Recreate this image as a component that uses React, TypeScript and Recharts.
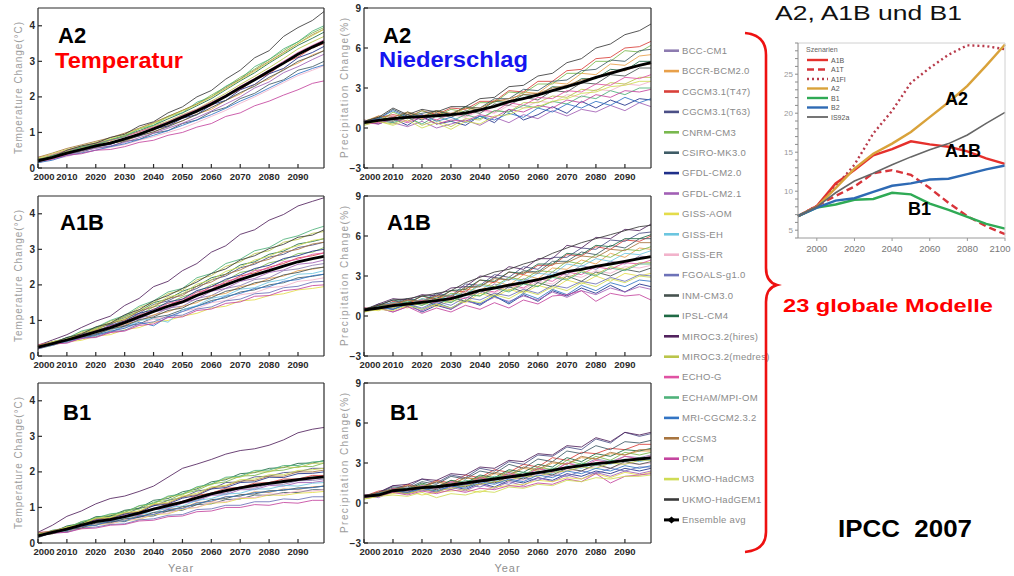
import React from 'react';
import { LineChart, Line, XAxis, YAxis } from 'recharts';

// ---------- categories / ticks ----------
const YEARS = [2000, 2005, 2010, 2015, 2020, 2025, 2030, 2035, 2040, 2045, 2050, 2055, 2060, 2065, 2070, 2075, 2080, 2085, 2090, 2095, 2099];
const YEAR_TICKS = [2000, 2010, 2020, 2030, 2040, 2050, 2060, 2070, 2080, 2090];
const TEMP_TICKS = [0, 1, 2, 3, 4];
const PRECIP_TICKS = [-3, 0, 3, 6, 9];

const MODELS = [
  'BCC-CM1', 'BCCR-BCM2.0', 'CGCM3.1(T47)', 'CGCM3.1(T63)', 'CNRM-CM3', 'CSIRO-MK3.0',
  'GFDL-CM2.0', 'GFDL-CM2.1', 'GISS-AOM', 'GISS-EH', 'GISS-ER', 'FGOALS-g1.0',
  'INM-CM3.0', 'IPSL-CM4', 'MIROC3.2(hires)', 'MIROC3.2(medres)', 'ECHO-G', 'ECHAM/MPI-OM',
  'MRI-CGCM2.3.2', 'CCSM3', 'PCM', 'UKMO-HadCM3', 'UKMO-HadGEM1',
];
const ENSEMBLE_NAME = 'Ensemble avg';
const MODEL_COLORS = [
  '#8d7bb0', '#e8a04a', '#d9403a', '#4b4f86', '#79b84e', '#3f5c66',
  '#1f2f8a', '#a25fb5', '#e4dc4a', '#6cc6e0', '#f2b3cb', '#6d72b8',
  '#46524f', '#1f6a45', '#52235e', '#bac54a', '#e052a3', '#4fb27a',
  '#3274c4', '#a8753f', '#c4459f', '#cfdc55', '#3a3a3a',
];

// ---------- temperature change (°C) ----------
const A2_TEMP: (number[] | null)[] = [
  null,
  [0.22,0.3,0.38,0.52,0.58,0.7,0.75,0.92,1.0,1.2,1.32,1.52,1.65,1.9,2.08,2.35,2.5,2.78,2.95,3.18,3.3],
  [0.18,0.32,0.4,0.55,0.6,0.72,0.8,0.98,1.06,1.28,1.4,1.62,1.75,2.02,2.2,2.48,2.65,2.95,3.12,3.38,3.5],
  null,
  [0.25,0.36,0.5,0.6,0.7,0.8,0.92,1.1,1.25,1.45,1.62,1.8,2.05,2.28,2.55,2.78,3.05,3.3,3.55,3.8,3.95],
  [0.15,0.26,0.4,0.44,0.58,0.6,0.75,0.8,0.98,1.05,1.25,1.35,1.58,1.7,1.95,2.1,2.35,2.48,2.75,2.85,3.0],
  [0.2,0.28,0.45,0.5,0.62,0.66,0.82,0.9,1.1,1.18,1.4,1.5,1.78,1.9,2.2,2.35,2.65,2.8,3.1,3.25,3.42],
  [0.18,0.25,0.36,0.48,0.55,0.62,0.72,0.85,0.98,1.12,1.26,1.42,1.6,1.8,2.0,2.25,2.42,2.68,2.85,3.05,3.2],
  null,
  null,
  [0.15,0.25,0.32,0.44,0.5,0.58,0.66,0.78,0.88,1.0,1.12,1.28,1.45,1.62,1.82,2.0,2.2,2.4,2.6,2.75,2.88],
  null,
  [0.2,0.3,0.4,0.48,0.6,0.68,0.78,0.9,1.02,1.16,1.33,1.5,1.7,1.9,2.12,2.3,2.55,2.75,3.0,3.15,3.3],
  [0.22,0.35,0.46,0.58,0.66,0.78,0.9,1.05,1.2,1.38,1.55,1.75,1.95,2.2,2.45,2.68,2.95,3.2,3.45,3.65,3.82],
  null,
  [0.25,0.34,0.46,0.56,0.68,0.76,0.9,1.02,1.18,1.32,1.5,1.66,1.88,2.1,2.35,2.58,2.82,3.08,3.35,3.55,3.7],
  [0.3,0.38,0.5,0.6,0.7,0.78,0.88,1.02,1.15,1.3,1.48,1.65,1.85,2.05,2.3,2.52,2.75,3.0,3.25,3.45,3.6],
  [0.15,0.35,0.42,0.6,0.65,0.8,0.88,1.1,1.2,1.45,1.55,1.85,2.0,2.3,2.5,2.85,3.05,3.35,3.55,3.85,4.0],
  [0.15,0.22,0.35,0.42,0.5,0.6,0.68,0.8,0.92,1.05,1.2,1.35,1.5,1.68,1.88,2.05,2.25,2.45,2.65,2.8,2.9],
  [0.3,0.42,0.55,0.65,0.75,0.85,0.98,1.12,1.28,1.45,1.62,1.8,2.0,2.25,2.5,2.75,3.0,3.25,3.5,3.75,3.9],
  [0.18,0.25,0.36,0.4,0.5,0.52,0.6,0.72,0.78,0.92,1.0,1.15,1.25,1.45,1.55,1.75,1.88,2.05,2.2,2.38,2.45],
  [0.28,0.4,0.52,0.62,0.72,0.82,0.95,1.1,1.25,1.42,1.6,1.78,2.0,2.22,2.48,2.72,2.98,3.22,3.5,3.72,3.9],
  [0.25,0.3,0.5,0.62,0.7,0.86,0.95,1.18,1.3,1.55,1.72,2.0,2.18,2.5,2.75,3.1,3.3,3.7,3.95,4.15,4.4],
];
const A2_TEMP_AVG = [0.2,0.3,0.42,0.52,0.62,0.7,0.82,0.95,1.1,1.26,1.43,1.6,1.8,2.02,2.26,2.48,2.72,2.95,3.2,3.4,3.55];

const A1B_TEMP: (number[] | null)[] = [
  [0.3,0.36,0.42,0.58,0.62,0.8,0.86,1.08,1.14,1.35,1.4,1.62,1.7,1.9,1.98,2.15,2.2,2.4,2.45,2.55,2.6],
  [0.22,0.32,0.46,0.5,0.66,0.72,0.9,0.98,1.16,1.24,1.4,1.5,1.7,1.76,1.95,2.02,2.18,2.25,2.4,2.44,2.5],
  [0.28,0.33,0.48,0.55,0.72,0.8,1.0,1.1,1.32,1.42,1.6,1.74,1.95,2.05,2.25,2.34,2.5,2.6,2.76,2.82,2.9],
  [0.2,0.38,0.5,0.6,0.78,0.88,1.08,1.2,1.45,1.55,1.75,1.9,2.14,2.25,2.48,2.58,2.78,2.86,3.05,3.12,3.2],
  [0.3,0.34,0.5,0.56,0.75,0.82,1.04,1.15,1.38,1.48,1.66,1.8,2.0,2.12,2.35,2.42,2.62,2.7,2.88,2.92,3.05],
  [0.2,0.3,0.44,0.48,0.62,0.66,0.84,0.9,1.08,1.15,1.3,1.4,1.56,1.64,1.8,1.86,2.0,2.06,2.2,2.24,2.3],
  [0.22,0.38,0.44,0.6,0.68,0.86,0.98,1.2,1.3,1.52,1.6,1.84,1.95,2.16,2.28,2.46,2.55,2.74,2.82,2.95,3.0],
  [0.3,0.32,0.46,0.52,0.7,0.75,0.94,1.04,1.24,1.32,1.5,1.6,1.82,1.9,2.1,2.18,2.35,2.42,2.58,2.62,2.7],
  [0.25,0.3,0.4,0.44,0.56,0.6,0.74,0.8,0.95,1.0,1.12,1.2,1.35,1.4,1.55,1.58,1.7,1.75,1.86,1.9,1.95],
  [0.2,0.35,0.4,0.55,0.6,0.75,0.8,1.0,1.05,0.95,1.3,1.42,1.62,1.7,1.88,1.92,2.08,2.15,2.3,2.32,2.4],
  [0.28,0.3,0.42,0.48,0.6,0.65,0.8,0.88,1.04,1.1,1.25,1.34,1.5,1.56,1.72,1.78,1.92,1.96,2.1,2.14,2.2],
  [0.2,0.34,0.38,0.5,0.54,0.68,0.72,0.9,0.96,1.12,1.15,1.32,1.38,1.55,1.6,1.75,1.78,1.92,1.96,2.08,2.1],
  [0.26,0.36,0.42,0.54,0.6,0.76,0.84,1.02,1.1,1.28,1.35,1.55,1.64,1.82,1.9,2.06,2.12,2.28,2.35,2.46,2.5],
  [0.3,0.36,0.52,0.6,0.8,0.9,1.12,1.25,1.5,1.6,1.82,1.96,2.2,2.3,2.56,2.65,2.86,2.95,3.15,3.22,3.3],
  [0.3,0.45,0.6,0.8,0.98,1.12,1.42,1.62,1.95,2.1,2.4,2.6,2.92,3.1,3.42,3.55,3.82,3.98,4.22,4.35,4.45],
  [0.28,0.4,0.48,0.68,0.78,0.98,1.1,1.36,1.5,1.75,1.85,2.14,2.26,2.52,2.65,2.88,2.96,3.2,3.28,3.45,3.5],
  [0.32,0.38,0.44,0.6,0.68,0.85,0.95,1.16,1.26,1.48,1.55,1.8,1.88,2.1,2.2,2.4,2.46,2.65,2.72,2.86,2.9],
  [0.22,0.4,0.5,0.7,0.8,1.0,1.14,1.4,1.55,1.8,1.9,2.2,2.32,2.6,2.72,2.96,3.05,3.28,3.38,3.55,3.65],
  [0.25,0.3,0.42,0.5,0.58,0.7,0.78,0.95,0.85,1.1,1.25,1.4,1.52,1.68,1.76,1.9,1.95,2.1,2.15,2.26,2.3],
  [0.3,0.4,0.46,0.64,0.74,0.92,1.02,1.26,1.38,1.62,1.7,1.96,2.08,2.3,2.42,2.62,2.72,2.92,3.0,3.15,3.2],
  [0.22,0.34,0.36,0.5,0.52,0.66,0.7,0.86,0.9,1.08,1.1,1.28,1.32,1.48,1.52,1.68,1.7,1.84,1.88,1.98,2.0],
  [0.25,0.4,0.48,0.64,0.75,0.94,1.05,1.3,1.42,1.66,1.75,2.02,2.14,2.38,2.5,2.7,2.8,3.0,3.1,3.25,3.3],
  [0.22,0.36,0.52,0.62,0.82,0.92,1.16,1.3,1.55,1.7,1.9,2.08,2.32,2.45,2.7,2.82,3.02,3.14,3.34,3.4,3.55],
];
const A1B_TEMP_AVG = [0.25,0.35,0.45,0.56,0.68,0.8,0.94,1.1,1.25,1.4,1.52,1.7,1.85,2.0,2.15,2.28,2.4,2.53,2.65,2.74,2.8];

const B1_TEMP: (number[] | null)[] = [
  [0.25,0.28,0.42,0.46,0.62,0.6,0.76,0.8,0.96,1.0,1.15,1.2,1.38,1.4,1.55,1.54,1.66,1.65,1.75,1.76,1.8],
  [0.18,0.3,0.34,0.48,0.52,0.62,0.64,0.78,0.8,0.95,0.98,1.14,1.16,1.3,1.32,1.44,1.42,1.52,1.5,1.58,1.6],
  [0.22,0.32,0.38,0.54,0.6,0.7,0.74,0.9,0.95,1.1,1.15,1.34,1.4,1.54,1.56,1.68,1.7,1.8,1.8,1.9,1.9],
  [0.2,0.34,0.4,0.58,0.64,0.76,0.8,0.98,1.04,1.2,1.28,1.46,1.52,1.7,1.72,1.86,1.88,1.98,2.0,2.1,2.1],
  [0.26,0.3,0.46,0.55,0.72,0.74,0.9,0.95,1.15,1.2,1.38,1.48,1.66,1.72,1.88,1.9,2.02,2.05,2.15,2.15,2.25],
  [0.15,0.3,0.32,0.46,0.5,0.6,0.6,0.74,0.76,0.9,0.92,1.08,1.1,1.22,1.24,1.35,1.34,1.42,1.42,1.5,1.5],
  [0.2,0.28,0.44,0.5,0.66,0.68,0.82,0.86,1.05,1.1,1.26,1.34,1.52,1.56,1.7,1.72,1.85,1.84,1.95,1.96,2.0],
  [0.24,0.28,0.4,0.46,0.6,0.62,0.72,0.78,0.94,0.96,1.12,1.18,1.34,1.36,1.5,1.5,1.62,1.6,1.7,1.7,1.75],
  [0.25,0.26,0.36,0.4,0.52,0.54,0.64,0.66,0.8,0.82,0.95,1.0,1.12,1.14,1.25,1.26,1.35,1.34,1.4,1.42,1.45],
  [0.2,0.32,0.35,0.5,0.54,0.65,0.68,0.82,0.85,1.0,1.04,1.2,1.25,1.38,1.4,1.52,1.52,1.62,1.6,1.68,1.7],
  [0.22,0.26,0.36,0.42,0.54,0.54,0.65,0.68,0.82,0.84,0.97,1.0,1.15,1.16,1.28,1.28,1.38,1.38,1.46,1.46,1.5],
  [0.18,0.28,0.3,0.42,0.45,0.52,0.54,0.65,0.68,0.78,0.8,0.94,0.96,1.06,1.06,1.16,1.16,1.24,1.22,1.3,1.3],
  [0.22,0.26,0.38,0.42,0.56,0.57,0.68,0.72,0.86,0.9,1.02,1.08,1.22,1.25,1.36,1.38,1.47,1.48,1.55,1.56,1.6],
  [0.25,0.3,0.48,0.55,0.74,0.76,0.92,0.98,1.2,1.25,1.44,1.52,1.72,1.78,1.95,1.98,2.1,2.12,2.24,2.25,2.32],
  [0.3,0.5,0.75,0.9,1.1,1.25,1.32,1.45,1.6,1.85,2.1,2.22,2.35,2.5,2.6,2.65,2.75,2.9,3.1,3.2,3.25],
  [0.22,0.35,0.42,0.6,0.68,0.8,0.86,1.04,1.1,1.3,1.35,1.56,1.64,1.82,1.85,2.0,2.0,2.14,2.12,2.24,2.25],
  [0.3,0.32,0.42,0.48,0.64,0.64,0.78,0.82,0.98,1.02,1.18,1.24,1.4,1.44,1.58,1.58,1.7,1.7,1.8,1.8,1.85],
  [0.2,0.36,0.42,0.6,0.7,0.82,0.86,1.05,1.12,1.32,1.38,1.58,1.66,1.85,1.88,2.04,2.05,2.18,2.18,2.28,2.3],
  [0.2,0.3,0.35,0.48,0.5,0.62,0.62,0.76,0.8,0.94,0.97,1.12,1.18,1.3,1.32,1.42,1.44,1.5,1.52,1.56,1.6],
  [0.28,0.34,0.44,0.52,0.68,0.7,0.84,0.88,1.08,1.12,1.3,1.36,1.55,1.6,1.74,1.76,1.88,1.88,2.0,2.0,2.05],
  [0.18,0.28,0.3,0.4,0.42,0.5,0.52,0.62,0.64,0.74,0.76,0.88,0.9,1.0,1.0,1.08,1.06,1.14,1.12,1.2,1.2],
  [0.25,0.3,0.45,0.52,0.7,0.72,0.86,0.9,1.1,1.15,1.32,1.4,1.58,1.62,1.78,1.8,1.92,1.92,2.04,2.06,2.1],
  null,
];
const B1_TEMP_AVG = [0.2,0.3,0.39,0.5,0.6,0.66,0.74,0.84,0.95,1.05,1.15,1.27,1.38,1.47,1.55,1.62,1.68,1.73,1.78,1.83,1.86];

// ---------- precipitation change (%) ----------
const A2_PRECIP: (number[] | null)[] = [
  null,
  [0.5,0.9,0.6,1.1,0.7,1.2,0.9,1.5,1.3,2.1,2.0,2.7,2.6,3.4,3.3,4.1,4.0,4.8,4.7,5.4,5.5],
  [0.3,0.8,1.0,0.8,1.3,1.0,1.5,1.4,2.0,2.0,2.8,2.7,3.5,3.5,4.3,4.4,5.2,5.3,6.0,6.1,6.5],
  null,
  [0.6,0.4,1.2,0.7,1.3,0.9,1.4,1.2,1.9,1.9,2.7,2.6,3.3,3.3,4.1,4.1,5.0,5.0,5.8,5.7,6.2],
  [0.4,0.7,1.4,0.9,1.1,1.3,1.0,1.6,1.5,2.2,2.2,2.9,2.8,3.5,3.6,4.3,4.4,5.1,5.0,5.8,5.9],
  [0.5,0.3,0.7,0.2,0.9,0.3,0.5,0.2,0.9,0.4,1.4,0.6,1.0,1.6,1.1,2.0,1.5,2.1,1.7,2.2,2.1],
  [0.3,0.6,0.4,0.1,0.5,0.0,0.3,0.6,0.2,0.8,0.4,1.0,0.7,1.3,0.9,1.4,1.2,1.7,1.3,1.9,1.6],
  null,
  null,
  [0.5,0.4,0.8,0.5,0.9,0.6,1.0,0.8,1.3,1.1,1.7,1.5,2.0,1.9,2.5,2.3,2.9,2.8,3.3,3.2,3.5],
  null,
  [0.3,0.7,0.5,1.0,0.6,1.1,0.8,1.3,1.1,1.8,1.7,2.3,2.1,2.8,2.7,3.4,3.3,4.0,3.9,4.5,4.5],
  [0.5,0.8,0.6,1.2,0.8,1.3,1.0,1.6,1.3,2.0,1.9,2.5,2.4,3.1,3.0,3.7,3.7,4.4,4.3,5.0,5.0],
  null,
  [0.2,0.5,0.3,0.8,0.2,0.6,0.1,0.7,0.6,1.3,1.2,1.9,1.9,2.4,2.3,2.9,2.8,3.4,3.3,3.8,3.8],
  [0.6,0.4,0.9,0.5,1.0,0.6,1.1,0.9,1.4,1.2,1.9,1.7,2.3,2.2,2.8,2.7,3.3,3.2,3.8,3.7,4.0],
  [0.3,0.6,0.4,0.8,0.3,0.9,0.5,1.0,0.7,1.3,1.2,1.7,1.5,2.0,1.8,2.4,2.2,2.8,2.5,3.0,3.0],
  [0.5,0.7,1.3,0.8,1.0,0.5,0.8,0.4,0.9,0.6,1.1,0.8,1.5,1.2,1.8,1.5,2.0,1.7,2.3,1.9,2.2],
  [0.4,0.9,0.8,1.2,0.9,1.3,1.1,1.5,1.5,2.0,2.2,2.5,2.6,3.0,3.2,3.6,3.8,4.2,4.3,4.7,4.8],
  [0.4,0.3,0.7,0.4,0.8,0.3,0.6,0.5,1.0,0.8,1.4,1.2,1.7,1.5,2.1,1.9,2.5,2.3,2.8,2.7,2.9],
  [0.3,0.5,0.2,0.6,0.0,0.4,-0.1,0.5,0.3,0.9,1.0,1.5,1.6,2.0,2.2,2.6,2.7,3.1,3.2,3.5,3.5],
  [0.5,0.8,1.5,1.0,1.4,1.2,1.6,1.6,2.2,2.3,3.1,3.2,3.9,4.1,4.9,5.2,6.0,6.3,7.0,7.3,7.8],
];
const A2_PRECIP_AVG = [0.4,0.58,0.7,0.8,0.86,0.92,1.0,1.12,1.36,1.62,1.98,2.2,2.48,2.8,3.1,3.42,3.8,4.1,4.42,4.7,4.9];

const A1B_PRECIP: (number[] | null)[] = [
  [0.5,0.9,0.6,1.2,0.8,1.4,1.1,1.9,1.7,2.4,2.1,2.8,2.5,3.3,3.1,3.8,3.5,4.1,3.9,4.5,4.4],
  [0.4,0.8,0.7,1.2,0.9,1.5,1.2,2.0,1.9,2.6,2.3,3.1,2.8,3.6,3.5,4.2,3.9,4.7,4.4,5.1,5.0],
  [0.6,0.5,1.1,0.9,1.5,1.2,1.9,1.8,2.7,2.5,3.3,3.1,3.8,3.8,4.6,4.5,5.2,5.0,5.7,5.6,6.0],
  [0.3,0.8,1.0,1.3,1.1,1.7,1.5,2.4,2.3,3.1,2.9,3.7,3.5,4.4,4.4,5.1,5.0,5.7,5.6,6.2,6.3],
  [0.5,0.5,1.0,0.8,1.3,1.1,1.7,1.6,2.4,2.2,2.9,2.7,3.4,3.3,4.1,3.9,4.6,4.4,5.0,4.9,5.2],
  [0.4,0.9,0.8,1.3,1.0,1.6,1.4,2.2,2.2,2.9,2.7,3.4,3.3,4.1,4.1,4.8,4.6,5.3,5.1,5.8,5.8],
  [0.4,0.7,0.5,0.9,0.3,0.8,0.5,1.2,0.8,1.5,0.9,1.6,1.1,1.9,1.5,2.1,1.7,2.3,1.8,2.4,2.2],
  [0.3,0.6,0.3,0.7,0.4,0.9,0.5,1.1,0.9,1.4,1.1,1.5,1.2,1.8,1.4,1.9,1.6,2.1,1.8,2.2,2.0],
  [0.5,0.4,0.8,0.6,1.0,0.7,1.2,1.0,1.7,1.4,2.0,1.7,2.3,2.0,2.7,2.4,3.0,2.6,3.2,3.0,3.2],
  [0.5,0.7,1.0,0.8,1.3,1.1,1.6,1.6,2.3,2.1,2.8,2.6,3.2,3.1,3.9,3.7,4.3,4.1,4.7,4.6,4.9],
  [0.4,0.6,0.9,0.7,1.1,0.9,1.4,1.3,1.9,1.7,2.3,2.0,2.6,2.4,3.1,2.9,3.4,3.2,3.7,3.6,3.8],
  [0.4,0.6,0.5,0.9,0.6,1.1,0.8,1.4,1.2,1.7,1.5,2.0,1.7,2.3,2.1,2.6,2.4,2.9,2.6,3.1,3.0],
  [0.6,0.5,0.9,0.7,1.2,0.8,1.4,1.1,1.9,1.5,2.2,1.8,2.5,2.2,3.0,2.6,3.3,3.0,3.5,3.3,3.6],
  [0.5,0.8,1.2,1.0,1.5,1.3,1.9,2.0,2.7,2.6,3.3,3.2,3.9,3.9,4.7,4.6,5.3,5.2,5.8,5.8,6.1],
  [0.4,0.9,1.3,1.2,1.6,1.5,2.1,2.2,3.0,2.9,3.7,3.5,4.3,4.3,5.3,5.1,5.9,5.8,6.5,6.4,6.9],
  [0.3,0.7,0.6,1.0,0.8,1.3,1.0,1.7,1.5,2.2,1.9,2.5,2.2,3.0,2.8,3.4,3.1,3.7,3.5,4.0,4.0],
  [0.6,0.5,0.9,0.8,1.2,1.0,1.5,1.3,2.0,1.8,2.4,2.1,2.8,2.6,3.3,3.1,3.7,3.5,4.0,3.9,4.2],
  [0.5,0.8,0.7,1.1,0.8,1.2,1.0,1.6,1.5,2.1,1.8,2.4,2.2,2.9,2.7,3.3,3.0,3.6,3.4,3.9,3.9],
  [0.4,0.7,0.5,0.9,0.5,1.0,0.6,1.2,0.9,1.5,1.0,1.7,1.3,2.0,1.6,2.3,1.9,2.5,2.2,2.7,2.6],
  [0.5,0.8,0.9,1.2,1.1,1.5,1.5,2.1,2.2,2.8,2.7,3.3,3.2,3.9,4.0,4.5,4.4,5.0,4.9,5.5,5.5],
  [0.4,0.6,0.3,0.7,0.2,0.6,0.3,0.8,0.5,1.0,0.6,1.2,0.9,1.5,1.6,1.9,1.1,1.7,1.5,1.6,1.2],
  [0.3,0.5,0.4,0.8,0.5,0.9,0.6,1.2,1.0,1.6,1.3,1.9,1.6,2.2,1.9,2.5,2.2,2.8,2.5,3.0,2.9],
  [0.5,0.8,1.2,1.3,1.5,1.7,1.9,2.5,2.9,3.3,3.5,3.9,4.2,4.7,5.1,5.5,5.8,6.1,6.4,6.7,6.8],
];
const A1B_PRECIP_AVG = [0.45,0.6,0.78,0.9,1.02,1.15,1.3,1.6,1.92,2.1,2.32,2.5,2.72,3.0,3.32,3.5,3.72,3.9,4.1,4.3,4.45];

const B1_PRECIP: (number[] | null)[] = [
  [0.6,0.5,1.1,0.9,1.4,1.1,1.6,1.4,1.9,1.7,2.3,2.0,2.6,2.4,3.0,2.8,3.3,3.1,3.5,3.4,3.6],
  [0.4,0.8,0.9,1.3,1.1,1.6,1.3,1.9,1.7,2.2,2.0,2.6,2.4,3.0,2.9,3.4,3.3,3.7,3.6,3.9,3.9],
  [0.5,0.9,1.0,1.4,1.2,1.7,1.5,2.1,1.9,2.5,2.3,2.9,2.7,3.4,3.2,3.8,3.7,4.1,4.0,4.4,4.4],
  [0.6,0.7,1.3,1.2,1.8,1.5,2.1,1.9,2.6,2.4,3.1,2.9,3.6,3.5,4.2,4.0,4.8,4.5,5.3,5.0,5.2],
  [0.4,0.6,1.1,0.9,1.4,1.1,1.7,1.5,2.0,1.8,2.4,2.1,2.7,2.5,3.2,2.9,3.5,3.2,3.8,3.6,3.8],
  [0.5,0.8,1.2,1.1,1.6,1.4,2.0,1.8,2.4,2.2,2.9,2.6,3.3,3.1,3.9,3.7,4.3,4.0,4.6,4.5,4.7],
  [0.4,0.6,0.9,0.7,1.1,0.8,1.3,1.0,1.5,1.2,1.7,1.5,1.9,1.7,2.2,2.0,2.4,2.2,2.6,2.4,2.6],
  [0.6,0.4,0.9,0.7,1.0,0.8,1.2,0.9,1.4,1.1,1.6,1.3,1.9,1.6,2.1,1.8,2.3,2.0,2.4,2.2,2.4],
  [0.4,0.6,0.7,0.9,0.6,0.8,0.9,1.0,0.8,1.2,1.3,1.4,1.7,1.6,1.9,1.8,2.2,1.9,2.3,2.1,2.3],
  [0.5,0.7,1.0,0.9,1.3,1.1,1.5,1.3,1.8,1.6,2.1,1.9,2.4,2.2,2.8,2.6,3.0,2.9,3.3,3.1,3.3],
  [0.6,0.5,1.0,0.8,1.2,1.0,1.4,1.2,1.7,1.5,1.9,1.7,2.2,2.0,2.5,2.4,2.8,2.6,3.0,2.9,3.0],
  [0.4,0.7,0.8,1.0,0.9,1.2,1.0,1.4,1.2,1.6,1.4,1.9,1.7,2.1,2.0,2.4,2.2,2.6,2.4,2.7,2.7],
  [0.5,0.6,1.0,0.8,1.2,1.0,1.4,1.2,1.7,1.5,2.0,1.8,2.3,2.1,2.6,2.4,2.9,2.6,3.1,2.9,3.1],
  [0.6,0.7,1.1,1.0,1.5,1.2,1.7,1.5,2.1,1.9,2.5,2.3,2.9,2.7,3.4,3.1,3.7,3.5,4.0,3.9,4.1],
  [0.5,0.8,1.3,1.4,1.8,1.7,2.2,2.1,2.7,2.6,3.2,3.1,3.7,3.6,4.3,4.2,4.9,4.6,5.3,5.1,5.3],
  [0.3,0.5,0.8,0.7,1.0,0.9,1.1,1.3,1.4,1.6,1.7,2.0,2.0,2.3,2.4,2.7,2.6,3.0,2.9,3.2,3.2],
  [0.6,0.6,1.1,0.9,1.3,1.1,1.6,1.4,1.9,1.7,2.2,2.0,2.6,2.3,3.0,2.7,3.2,3.0,3.5,3.3,3.5],
  [0.4,0.7,1.0,1.1,1.2,1.3,1.3,1.7,1.6,2.0,1.9,2.3,2.2,2.6,2.6,3.0,2.8,3.2,3.1,3.4,3.4],
  [0.5,0.7,0.9,0.8,1.1,0.9,1.3,1.1,1.6,1.4,1.8,1.6,2.1,1.9,2.4,2.2,2.6,2.4,2.8,2.6,2.8],
  [0.5,0.8,1.0,1.3,1.2,1.6,1.4,1.9,1.8,2.3,2.1,2.7,2.5,3.1,2.9,3.5,3.3,3.8,3.6,4.0,4.0],
  [0.4,0.5,0.8,0.6,0.9,0.7,1.0,0.8,1.1,1.0,1.3,1.2,1.5,1.4,1.8,1.6,2.2,1.5,2.0,2.1,2.2],
  [0.3,0.5,0.6,0.5,0.8,0.4,0.7,0.6,0.9,0.8,1.2,1.1,1.4,1.3,1.7,1.6,1.9,1.8,2.0,2.0,2.1],
  null,
];
const B1_PRECIP_AVG = [0.5,0.6,0.92,1.02,1.15,1.22,1.35,1.5,1.65,1.8,1.95,2.1,2.28,2.45,2.65,2.8,2.95,3.05,3.2,3.3,3.38];

// ---------- inset: SRES emission scenarios ----------
const INSET_YEARS = [1990, 2000, 2010, 2020, 2030, 2040, 2050, 2060, 2070, 2080, 2090, 2100];
const INSET_X_TICKS = [2000, 2020, 2040, 2060, 2080, 2100];
const INSET_Y_TICKS = [4,5,6,7,8,9,10,11,12,13,14,15,16,17,18,19,20,21,22,23,24,25,26,27,28,29];
const SCENARIO_NAMES = ['A1B', 'A1T', 'A1FI', 'A2', 'B1', 'B2', 'IS92a'];
const SCENARIO_COLORS = ['#e5302c', '#d8343a', '#b83a4a', '#d9a23a', '#2faa55', '#2e6ab4', '#666666'];
const SCENARIO_DASH = ['', '7 4', '2 3', '', '', '', ''];
const SCEN_A1B = [6.8, 8.1, 11.0, 12.7, 14.6, 15.4, 16.4, 16.0, 15.7, 15.1, 14.2, 13.5];
const SCEN_A1T = [6.8, 8.1, 9.4, 10.6, 12.3, 12.7, 12.1, 10.4, 8.5, 6.8, 5.5, 4.5];
const SCEN_A1FI = [6.8, 8.1, 10.6, 13.4, 17.4, 20.3, 23.9, 25.8, 27.5, 28.7, 28.6, 28.2];
const SCEN_A2 = [6.8, 8.0, 10.4, 12.9, 14.8, 16.1, 17.6, 19.5, 21.4, 23.5, 26.1, 28.8];
const SCEN_B1 = [6.8, 7.9, 8.3, 8.9, 9.0, 9.8, 9.6, 8.4, 7.6, 6.7, 5.8, 5.2];
const SCEN_B2 = [6.8, 7.9, 8.8, 9.1, 9.9, 10.7, 11.0, 11.5, 11.6, 12.2, 12.8, 13.3];
const SCEN_IS92A = [6.8, 8.0, 9.8, 11.3, 12.3, 13.4, 14.4, 15.3, 16.1, 17.2, 18.7, 20.1];
const SCENARIO_VALUES = [SCEN_A1B, SCEN_A1T, SCEN_A1FI, SCEN_A2, SCEN_B1, SCEN_B2, SCEN_IS92A];

const FONT = '"Liberation Sans", Arial, sans-serif';

function buildRows(models: (number[] | null)[], avg: number[]) {
  return YEARS.map((year, i) => {
    const row: Record<string, number> = { year, avg: avg[i] };
    models.forEach((m, k) => {
      if (m) row['m' + k] = m[i];
    });
    return row;
  });
}

const fmtY = (v: number) => (v < 0 ? '\u2212' + Math.abs(v) : String(v));

// bottom year tick: the first label sits a little right of its tick, as in the source figure
const YearTick = (p: any) => {
  const v = p.payload?.value;
  const dx = v === 2000 ? 6 : 0;
  return (
    <text x={p.x + dx} y={p.y + 8} textAnchor="middle" fill="#2a2a2a" fontSize={9.5} fontWeight={700} fontFamily={FONT}>
      {v}
    </text>
  );
};

const InsetYearTick = (p: any) => {
  const v = p.payload?.value;
  const dx = v === 2100 ? -5 : 0;
  return (
    <text x={p.x + dx} y={p.y + 9} textAnchor="middle" fill="#777" fontSize={9.5} fontFamily={FONT}>
      {v}
    </text>
  );
};

function Panel(props: {
  left: number; top: number; width: number; models: (number[] | null)[]; avg: number[];
  domain: [number, number]; ticks: number[]; ylabel: string; ylabelLen: number; yearLabel: boolean;
}) {
  const { left, top, width, models, avg, domain, ticks, ylabel, ylabelLen, yearLabel } = props;
  const rows = buildRows(models, avg);
  const xh = yearLabel ? 34 : 20;
  const height = 8 + 160 + xh;
  const yTitle = (p: any) => {
    const vb = p.viewBox || { x: 0, y: 0, width: 38, height: 160 };
    const x = vb.x + 18;
    const y = vb.y + vb.height / 2;
    return (
      <text x={x} y={y} transform={`rotate(-90 ${x} ${y})`} textAnchor="middle" dominantBaseline="central"
        fill="#9d9d9d" fontSize={10} textLength={ylabelLen} lengthAdjust="spacing" fontFamily={FONT}>
        {ylabel}
      </text>
    );
  };
  const xTitle = (p: any) => {
    const vb = p.viewBox || { x: 38, y: 168, width: 286, height: 34 };
    return (
      <text x={vb.x + vb.width / 2} y={vb.y + 29} textAnchor="middle" fill="#8f8f8f" fontSize={11} fontFamily={FONT} letterSpacing={1}>
        Year
      </text>
    );
  };
  return (
    <div style={{ position: 'absolute', left, top: top - 8 }}>
      <LineChart width={width} height={height} data={rows} margin={{ top: 7, right: 5, bottom: 0, left: 0 }}>
        <XAxis dataKey="year" type="number" domain={[2000, 2099]} ticks={YEAR_TICKS} interval={0}
          height={xh} tickSize={-4} tickMargin={8} stroke="#2a2a2a" strokeWidth={1.2}
          tick={YearTick} label={yearLabel ? xTitle : undefined} />
        <XAxis xAxisId="top" dataKey="year" orientation="top" type="number" domain={[2000, 2099]} ticks={YEAR_TICKS}
          interval={0} height={1} tick={false} tickSize={-4} stroke="#2a2a2a" strokeWidth={1.2} />
        <YAxis type="number" domain={domain} ticks={ticks} interval={0} width={38} tickSize={-4} tickMargin={7}
          stroke="#2a2a2a" strokeWidth={1.2} tickFormatter={fmtY} allowDataOverflow
          tick={{ fill: '#2a2a2a', fontSize: 10, fontWeight: 700, fontFamily: FONT }} label={yTitle} />
        <YAxis yAxisId="right" orientation="right" type="number" domain={domain} ticks={ticks} interval={0} width={1}
          tick={false} tickSize={-4} stroke="#2a2a2a" strokeWidth={1.2} allowDataOverflow />
        {models.map((m, k) =>
          m ? (
            <Line key={k} dataKey={'m' + k} type="linear" stroke={MODEL_COLORS[k]} strokeWidth={1}
              strokeOpacity={0.85} dot={false} isAnimationActive={false} />
          ) : null,
        )}
        <Line dataKey="avg" type="linear" stroke="#000" strokeWidth={2.8} dot={false} isAnimationActive={false} />
        {/* invisible series that binds the top and right frame axes */}
        <Line xAxisId="top" yAxisId="right" dataKey="avg" stroke="none" strokeOpacity={0} dot={false}
          activeDot={false} legendType="none" isAnimationActive={false} />
      </LineChart>
    </div>
  );
}

function Inset() {
  const rows = INSET_YEARS.map((year, i) => {
    const r: Record<string, number> = { year };
    SCENARIO_NAMES.forEach((n, k) => { r[n] = SCENARIO_VALUES[k][i]; });
    return r;
  });
  return (
    <div style={{ position: 'absolute', left: 772, top: 30 }}>
      <LineChart width={242} height={230} data={rows} margin={{ top: 12, right: 8, bottom: 0, left: 0 }}>
        <XAxis dataKey="year" type="number" domain={[1990, 2100]} ticks={INSET_X_TICKS} interval={0}
          height={22} tickSize={3} tickMargin={2} stroke="#9a9a9a" tick={InsetYearTick} />
        <XAxis xAxisId="top" dataKey="year" orientation="top" type="number" domain={[1990, 2100]} ticks={INSET_X_TICKS}
          height={1} tick={false} tickLine={false} stroke="#d0d0d0" />
        <YAxis type="number" domain={[4, 29]} ticks={INSET_Y_TICKS} interval={0} width={26} tickSize={3}
          tickMargin={2} stroke="#8a8a8a" tickFormatter={(v: number) => (v % 5 === 0 ? String(v) : '')}
          tick={{ fill: '#999', fontSize: 8, fontFamily: FONT }} />
        <YAxis yAxisId="right" orientation="right" type="number" domain={[4, 29]} width={1}
          tick={false} tickLine={false} stroke="#d0d0d0" />
        {SCENARIO_NAMES.map((n, k) => (
          <Line key={n} dataKey={n} type="linear" stroke={SCENARIO_COLORS[k]}
            strokeWidth={n === 'IS92a' ? 1.6 : 2.4} strokeDasharray={SCENARIO_DASH[k] || undefined}
            dot={false} isAnimationActive={false} />
        ))}
        <Line xAxisId="top" yAxisId="right" dataKey="A2" stroke="none" strokeOpacity={0} dot={false}
          activeDot={false} legendType="none" isAnimationActive={false} />
      </LineChart>
    </div>
  );
}

export default function App() {
  const legendY0 = 50.7;
  const legendStep = 20.4;
  return (
    <div style={{ position: 'absolute', left: 0, top: 0, width: 1014, height: 576, overflow: 'hidden', background: '#fff', fontFamily: FONT }}>
      <Panel left={0} top={8} width={330} models={A2_TEMP} avg={A2_TEMP_AVG} domain={[0, 4.5]} ticks={TEMP_TICKS}
        ylabel="Temperature Change(°C)" ylabelLen={132} yearLabel={false} />
      <Panel left={326} top={8} width={331} models={A2_PRECIP} avg={A2_PRECIP_AVG} domain={[-3, 9]} ticks={PRECIP_TICKS}
        ylabel="Precipitation Change(%)" ylabelLen={140} yearLabel={false} />
      <Panel left={0} top={196} width={330} models={A1B_TEMP} avg={A1B_TEMP_AVG} domain={[0, 4.5]} ticks={TEMP_TICKS}
        ylabel="Temperature Change(°C)" ylabelLen={132} yearLabel={false} />
      <Panel left={326} top={196} width={331} models={A1B_PRECIP} avg={A1B_PRECIP_AVG} domain={[-3, 9]} ticks={PRECIP_TICKS}
        ylabel="Precipitation Change(%)" ylabelLen={140} yearLabel={false} />
      <Panel left={0} top={383} width={330} models={B1_TEMP} avg={B1_TEMP_AVG} domain={[0, 4.5]} ticks={TEMP_TICKS}
        ylabel="Temperature Change(°C)" ylabelLen={132} yearLabel={true} />
      <Panel left={326} top={383} width={331} models={B1_PRECIP} avg={B1_PRECIP_AVG} domain={[-3, 9]} ticks={PRECIP_TICKS}
        ylabel="Precipitation Change(%)" ylabelLen={140} yearLabel={true} />
      <Inset />
      <svg width={1014} height={576} style={{ position: 'absolute', left: 0, top: 0, pointerEvents: 'none' }} fontFamily={FONT}>
        {/* panel titles */}
        <g fontWeight={700} fontSize={22} fill="#000">
          <text x={58} y={43}>A2</text>
          <text x={383} y={43}>A2</text>
          <text x={60} y={230}>A1B</text>
          <text x={387} y={230}>A1B</text>
          <text x={63} y={420}>B1</text>
          <text x={390} y={420}>B1</text>
        </g>
        <text x={55} y={68} fontWeight={700} fontSize={22} fill="#ff0000" textLength={128} lengthAdjust="spacingAndGlyphs">Temperatur</text>
        <text x={379} y={67} fontWeight={700} fontSize={22} fill="#1515f0" textLength={149} lengthAdjust="spacingAndGlyphs">Niederschlag</text>

        {/* model legend */}
        {MODELS.map((name, k) => {
          const y = legendY0 + k * legendStep;
          return (
            <g key={name}>
              <line x1={664} x2={679} y1={y} y2={y} stroke={MODEL_COLORS[k]} strokeWidth={2.6} />
              <text x={682} y={y + 3.3} fontSize={9.5} fill="#8a8a8a" letterSpacing={0.3}>{name}</text>
            </g>
          );
        })}
        {(() => {
          const y = legendY0 + MODELS.length * legendStep;
          return (
            <g>
              <line x1={664} x2={679} y1={y} y2={y} stroke="#000" strokeWidth={3} />
              <path d={`M ${667.5} ${y} L ${671.5} ${y - 3.5} L ${675.5} ${y} L ${671.5} ${y + 3.5} Z`} fill="#000" />
              <text x={682} y={y + 3.3} fontSize={9.5} fill="#8a8a8a" letterSpacing={0.3}>{ENSEMBLE_NAME}</text>
            </g>
          );
        })()}

        {/* red brace */}
        <path d="M 745 33 Q 766 35 766 55 L 766 268 Q 766 282 777 285 Q 766 288 766 302 L 766 532 Q 766 550 745 552"
          fill="none" stroke="#ee1111" strokeWidth={2.6} />

        {/* right-hand texts */}
        <text x={775} y={20} fontSize={21} fill="#111" textLength={187} lengthAdjust="spacingAndGlyphs">A2, A1B und B1</text>
        <text x={783} y={312} fontSize={19} fontWeight={700} fill="#ff0000" textLength={210} lengthAdjust="spacingAndGlyphs">23 globale Modelle</text>
        <text x={838} y={537} fontSize={23} fontWeight={700} fill="#000" textLength={134} lengthAdjust="spacingAndGlyphs"
          style={{ whiteSpace: 'pre' }}>IPCC  2007</text>

        {/* inset legend */}
        <text x={806} y={52} fontSize={7} fill="#666">Szenarien</text>
        {SCENARIO_NAMES.map((n, k) => {
          const y = 60 + k * 9.5;
          return (
            <g key={n}>
              <line x1={807} x2={828} y1={y} y2={y} stroke={SCENARIO_COLORS[k]} strokeWidth={n === 'IS92a' ? 1.8 : 2.4}
                strokeDasharray={SCENARIO_DASH[k] || undefined} />
              <text x={831} y={y + 2.5} fontSize={7} fill="#555">{n}</text>
            </g>
          );
        })}
        {/* inset annotations */}
        <g fontWeight={700} fontSize={18} fill="#000">
          <text x={945} y={105}>A2</text>
          <text x={945} y={157}>A1B</text>
          <text x={908} y={215}>B1</text>
        </g>
      </svg>
    </div>
  );
}
